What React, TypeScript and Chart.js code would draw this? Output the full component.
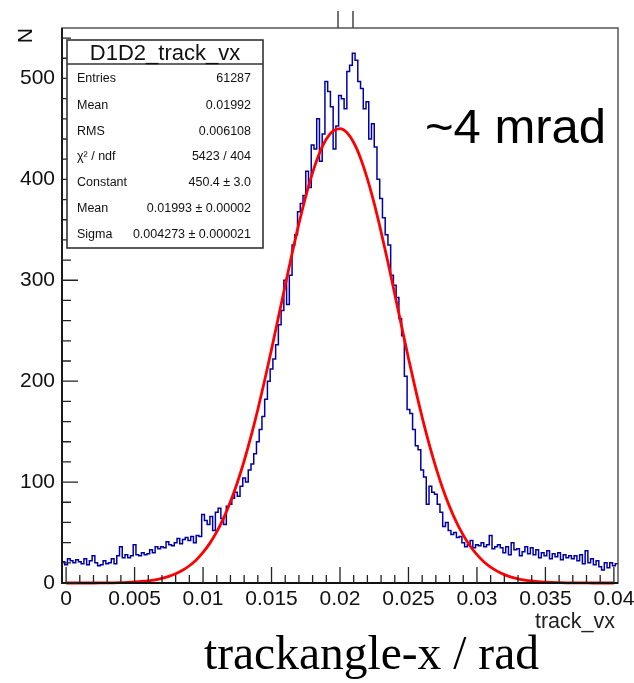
import React, { useEffect, useRef } from 'react';
import { Chart, registerables } from 'chart.js';

Chart.register(...registerables);

// ---- axis ranges ----
const X_MIN = -0.0003;
const X_MAX = 0.0403;
const Y_MIN = 0;
const Y_MAX = 550;

// ---- histogram (D1D2_track_vx), bin width 0.0002 starting at X_MIN ----
const BIN_WIDTH = 0.0002;
const HIST_VALUES = [
  21,
  18, 24, 22, 20, 23,
  21, 19, 24, 18, 22,
  27, 20, 17, 18, 22,
  19, 20, 24, 19, 27,
  36, 25, 28, 25, 27,
  38, 28, 27, 30, 28,
  29, 33, 30, 36, 34,
  36, 35, 41, 38, 37,
  40, 44, 39, 43, 45,
  42, 46, 40, 47, 46,
  68, 62, 58, 66, 52,
  70, 74, 64, 58, 76,
  78, 84, 90, 86, 96,
  104, 100, 112, 118, 128,
  140, 152, 165, 182, 200,
  212, 222, 236, 256, 270,
  300, 276, 305, 335, 345,
  368, 376, 384, 408, 392,
  434, 430, 460, 418, 445,
  497, 487, 472, 430, 453,
  483, 480, 470, 507, 513,
  525, 518, 497, 490, 470,
  477, 440, 455, 432, 400,
  381, 362, 345, 335, 305,
  295, 283, 262, 245, 205,
  172, 168, 152, 136, 132,
  112, 105, 78, 96, 90,
  88, 78, 70, 56, 60,
  52, 48, 50, 45, 46,
  40, 36, 38, 42, 35,
  38, 37, 40, 36, 38,
  47, 34, 36, 38, 35,
  30, 36, 28, 40, 33,
  34, 27, 31, 36, 29,
  35, 28, 33, 25, 30,
  27, 32, 24, 29, 26,
  30, 23, 28, 25, 27,
  24, 27, 22, 28, 19,
  32, 20, 24, 18, 22,
  16, 13, 20, 15, 20,
  17, 19,
];

const FIT_X0 = 0;
const FIT_STEP = 0.0005;
const FIT_VALUES = [
  0, 0, 0, 0, 0.02, 0.05, 0.1, 0.2, 0.4, 0.6,
  1.0, 1.5, 2.2, 3.2, 4.6, 6.6, 9.2, 12.6, 17.1, 22.9,
  30.3, 39.5, 50.7, 64.3, 80.5, 99.3, 120.9, 145.2, 171.9, 200.9,
  231.5, 263.2, 295.1, 326.4, 356.1, 383.2, 406.7, 425.9, 439.9, 448.1,
  450.3, 446.4, 436.5, 421.0, 400.5, 375.9, 348.0, 317.8, 286.1, 254.2,
  222.8, 192.6, 164.2, 138.2, 114.6, 93.7, 75.7, 60.3, 47.4, 36.7,
  28.1, 21.1, 15.7, 11.5, 8.3, 5.9, 4.2, 2.9, 2.0, 1.3,
  0.9, 0.6, 0.4, 0.2, 0.15, 0.1, 0.05, 0, 0, 0,
  0,
];

// ---- ticks ----
const X_TICKS = [0, 0.005, 0.01, 0.015, 0.02, 0.025, 0.03, 0.035, 0.04];
const X_TICK_LABELS = ['0', '0.005', '0.01', '0.015', '0.02', '0.025', '0.03', '0.035', '0.04'];
const X_MINOR_STEP = 0.001;
const Y_TICKS = [0, 100, 200, 300, 400, 500];
const Y_TICK_LABELS = ['0', '100', '200', '300', '400', '500'];
const Y_MINOR_STEP = 20;

// ---- texts ----
const STATS_TITLE = 'D1D2_track_vx';
const STAT_LABELS = ['Entries', 'Mean', 'RMS', 'χ² / ndf', 'Constant', 'Mean', 'Sigma'];
const STAT_VALUES = ['61287', '0.01992', '0.006108', '5423 / 404', '450.4 ± 3.0', '0.01993 ± 0.00002', '0.004273 ± 0.000021'];
const Y_TITLE = 'N';
const X_TITLE = 'track_vx';
const ANNOTATION = '~4 mrad';
const CAPTION = 'trackangle-x / rad';

const SANS = '"Liberation Sans", Arial, Helvetica, sans-serif';
const SERIF = '"Liberation Serif", "Times New Roman", serif';

const rootDecor = {
  id: 'rootDecor',
  afterDraw(chart: any) {
    const { ctx, chartArea } = chart;
    const { left, top, right, bottom } = chartArea;
    const xs = chart.scales.x;
    const ys = chart.scales.y;
    ctx.save();

    // frame
    ctx.strokeStyle = '#555';
    ctx.lineWidth = 1.5;
    ctx.strokeRect(left, top, right - left, bottom - top);

    // axis lines
    ctx.strokeStyle = '#111';
    ctx.lineWidth = 1.8;
    ctx.beginPath();
    ctx.moveTo(left, top);
    ctx.lineTo(left, bottom);
    ctx.lineTo(right, bottom);
    ctx.stroke();

    // ticks (drawn inside the frame)
    ctx.lineWidth = 1.3;
    ctx.strokeStyle = '#222';
    ctx.beginPath();
    for (let v = 0; v <= X_MAX + 1e-9; v += X_MINOR_STEP) {
      const px = xs.getPixelForValue(v);
      const isMajor = X_TICKS.some((t) => Math.abs(t - v) < 1e-7);
      const len = isMajor ? 16 : 8;
      ctx.moveTo(px, bottom);
      ctx.lineTo(px, bottom - len);
    }
    for (let v = 0; v <= Y_MAX; v += Y_MINOR_STEP) {
      const py = ys.getPixelForValue(v);
      const isMajor = Y_TICKS.includes(v);
      const len = isMajor ? 16 : 9;
      ctx.moveTo(left, py);
      ctx.lineTo(left + len, py);
    }
    ctx.stroke();

    // two small marks above the frame
    ctx.strokeStyle = '#444';
    ctx.lineWidth = 1.5;
    ctx.beginPath();
    ctx.moveTo(338, 11);
    ctx.lineTo(338, top);
    ctx.moveTo(353, 11);
    ctx.lineTo(353, top);
    ctx.stroke();

    // stats box
    const bx = 67, by = 40, bw = 196, bh = 208;
    ctx.fillStyle = '#fff';
    ctx.fillRect(bx, by, bw, bh);
    ctx.strokeStyle = '#333';
    ctx.lineWidth = 1.6;
    ctx.strokeRect(bx, by, bw, bh);
    ctx.beginPath();
    ctx.moveTo(bx, by + 24);
    ctx.lineTo(bx + bw, by + 24);
    ctx.stroke();

    ctx.fillStyle = '#111';
    ctx.font = `22px ${SANS}`;
    ctx.textAlign = 'center';
    ctx.textBaseline = 'alphabetic';
    ctx.fillText(STATS_TITLE, bx + bw / 2, by + 19.5);

    ctx.font = `12.5px ${SANS}`;
    ctx.textBaseline = 'middle';
    const rowY = [79, 105.5, 131.5, 157, 183, 209, 235];
    STAT_LABELS.forEach((lab, i) => {
      ctx.textAlign = 'left';
      ctx.fillText(lab, 77, rowY[i]);
      ctx.textAlign = 'right';
      ctx.fillText(STAT_VALUES[i], 251, rowY[i]);
    });

    // y title (rotated)
    ctx.save();
    ctx.translate(32, top);
    ctx.rotate(-Math.PI / 2);
    ctx.font = `21px ${SANS}`;
    ctx.textAlign = 'right';
    ctx.textBaseline = 'alphabetic';
    ctx.fillStyle = '#111';
    ctx.fillText(Y_TITLE, 0, 0);
    ctx.restore();

    // x title
    ctx.font = `21.5px ${SANS}`;
    ctx.textAlign = 'right';
    ctx.textBaseline = 'alphabetic';
    ctx.fillStyle = '#222';
    ctx.fillText(X_TITLE, 615, 628);

    // annotation
    ctx.font = `49px ${SANS}`;
    ctx.textAlign = 'left';
    ctx.fillStyle = '#000';
    ctx.fillText(ANNOTATION, 425, 143);

    // caption
    ctx.font = `47.5px ${SERIF}`;
    ctx.textAlign = 'left';
    ctx.fillText(CAPTION, 204, 669);

    ctx.restore();
  },
};

export default function App() {
  const ref = useRef<HTMLCanvasElement | null>(null);

  useEffect(() => {
    if (!ref.current) return;
    const histData = HIST_VALUES.map((v, i) => ({ x: X_MIN + i * BIN_WIDTH, y: v }));
    histData.push({ x: X_MIN + HIST_VALUES.length * BIN_WIDTH, y: HIST_VALUES[HIST_VALUES.length - 1] });
    const fitData = FIT_VALUES.map((v, i) => ({ x: FIT_X0 + i * FIT_STEP, y: v }));

    const chart = new Chart(ref.current, {
      type: 'line',
      data: {
        datasets: [
          {
            label: 'fit',
            data: fitData,
            borderColor: '#ff0000',
            borderWidth: 2.8,
            pointRadius: 0,
            cubicInterpolationMode: 'monotone',
            fill: false,
            clip: 6,
          } as any,
          {
            label: 'hist',
            data: histData,
            borderColor: '#0000a8',
            borderWidth: 1.5,
            pointRadius: 0,
            stepped: 'before',
            fill: false,
          } as any,
        ],
      },
      options: {
        animation: false,
        responsive: false,
        maintainAspectRatio: false,
        layout: { padding: { top: 28, left: 0, right: 0, bottom: 0 } },
        plugins: { legend: { display: false }, tooltip: { enabled: false } },
        scales: {
          x: {
            type: 'linear',
            min: X_MIN,
            max: X_MAX,
            grid: { display: false, drawTicks: false },
            border: { display: false },
            afterBuildTicks: (s: any) => {
              s.ticks = X_TICKS.map((v) => ({ value: v }));
            },
            afterFit: (s: any) => {
              s.height = 100;
              s.paddingLeft = 0;
              s.paddingRight = 16;
            },
            ticks: {
              autoSkip: false,
              maxRotation: 0,
              padding: 4,
              color: '#111',
              font: { family: SANS, size: 21 },
              callback: (_v: any, i: number) => X_TICK_LABELS[i],
            },
          },
          y: {
            type: 'linear',
            min: Y_MIN,
            max: Y_MAX,
            grid: { display: false, drawTicks: false },
            border: { display: false },
            afterBuildTicks: (s: any) => {
              s.ticks = Y_TICKS.map((v) => ({ value: v }));
            },
            afterFit: (s: any) => {
              s.width = 62;
              s.paddingTop = 0;
              s.paddingBottom = 0;
            },
            ticks: {
              autoSkip: false,
              padding: 7,
              color: '#111',
              font: { family: SANS, size: 21 },
              callback: (_v: any, i: number) => Y_TICK_LABELS[i],
            },
          },
        },
      },
      plugins: [rootDecor],
    } as any);
    return () => chart.destroy();
  }, []);

  return (
    <div style={{ position: 'absolute', left: 0, top: 0, width: 634, height: 683, background: '#fff' }}>
      <canvas ref={ref} width={634} height={683} style={{ display: 'block' }} />
    </div>
  );
}
